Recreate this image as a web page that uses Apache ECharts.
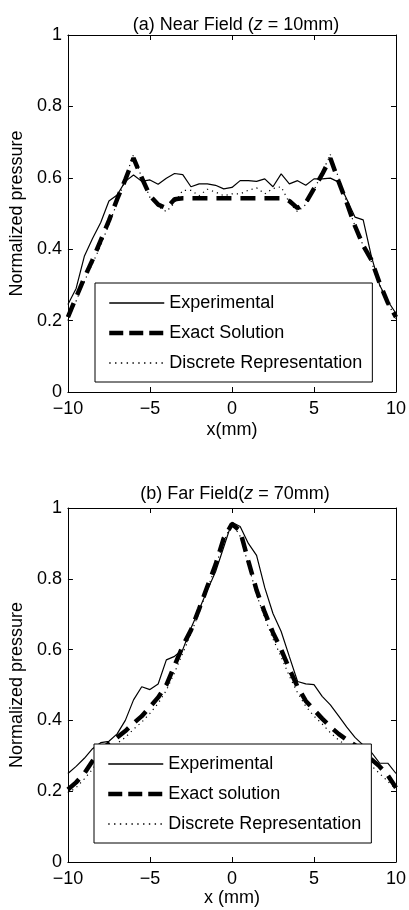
<!DOCTYPE html>
<html>
<head>
<meta charset="utf-8">
<script src="https://cdn.jsdelivr.net/npm/echarts@6/dist/echarts.min.js"></script>
<style>
  html, body { margin: 0; padding: 0; background: #fff; }
  #chart { width: 409px; height: 910px; }
</style>
</head>
<body>
<div id="chart"></div>
<script>
// x positions (mm), shared by every curve
const xMm = [-10, -9.5, -9, -8.5, -8, -7.5, -7, -6.5, -6, -5.5, -5, -4.5, -4, -3.5, -3, -2.5, -2, -1.5, -1, -0.5,
  0, 0.5, 1, 1.5, 2, 2.5, 3, 3.5, 4, 4.5, 5, 5.5, 6, 6.5, 7, 7.5, 8, 8.5, 9, 9.5, 10];

// (a) near field, z = 10mm
const nearExperimental = [0.245, 0.29, 0.38, 0.43, 0.475, 0.535, 0.552, 0.59, 0.608, 0.59, 0.594, 0.582, 0.599, 0.612, 0.609, 0.575, 0.583, 0.583, 0.579, 0.569,
  0.573, 0.592, 0.592, 0.59, 0.597, 0.575, 0.611, 0.583, 0.592, 0.579, 0.597, 0.597, 0.599, 0.588, 0.54, 0.49, 0.482, 0.38, 0.3, 0.255, 0.22];
const nearExact = [0.21, 0.265, 0.32, 0.37, 0.425, 0.48, 0.54, 0.595, 0.655, 0.6, 0.55, 0.525, 0.515, 0.54, 0.543, 0.543, 0.543, 0.543, 0.543, 0.543,
  0.543, 0.543, 0.543, 0.543, 0.543, 0.543, 0.543, 0.535, 0.515, 0.53, 0.57, 0.61, 0.655, 0.59, 0.53, 0.465, 0.41, 0.37, 0.305, 0.25, 0.21];
const nearDiscrete = [0.2, 0.255, 0.31, 0.36, 0.41, 0.47, 0.53, 0.6, 0.665, 0.6, 0.545, 0.52, 0.505, 0.53, 0.565, 0.565, 0.55, 0.568, 0.56, 0.55,
  0.555, 0.555, 0.565, 0.572, 0.555, 0.57, 0.575, 0.53, 0.505, 0.525, 0.565, 0.615, 0.665, 0.6, 0.53, 0.465, 0.41, 0.365, 0.3, 0.25, 0.205];

// (b) far field, z = 70mm
const farExperimental = [0.25, 0.27, 0.293, 0.32, 0.337, 0.341, 0.362, 0.4, 0.458, 0.495, 0.487, 0.503, 0.571, 0.581, 0.6, 0.66, 0.713, 0.768, 0.82, 0.89,
  0.96, 0.948, 0.9, 0.866, 0.775, 0.702, 0.651, 0.58, 0.51, 0.503, 0.501, 0.468, 0.444, 0.413, 0.381, 0.352, 0.33, 0.31, 0.279, 0.279, 0.25];
const farExact = [0.205, 0.225, 0.25, 0.285, 0.315, 0.335, 0.352, 0.37, 0.392, 0.412, 0.438, 0.465, 0.5, 0.555, 0.61, 0.655, 0.715, 0.778, 0.84, 0.915,
  0.955, 0.935, 0.85, 0.768, 0.705, 0.648, 0.6, 0.545, 0.495, 0.455, 0.43, 0.405, 0.382, 0.362, 0.345, 0.33, 0.31, 0.29, 0.27, 0.245, 0.21];
const farDiscrete = [0.195, 0.21, 0.235, 0.262, 0.295, 0.318, 0.335, 0.352, 0.375, 0.395, 0.42, 0.448, 0.485, 0.535, 0.59, 0.645, 0.705, 0.77, 0.835, 0.905,
  0.958, 0.92, 0.84, 0.755, 0.69, 0.63, 0.58, 0.525, 0.478, 0.44, 0.412, 0.39, 0.365, 0.345, 0.328, 0.31, 0.29, 0.272, 0.25, 0.228, 0.205];

const titles = ['(a) Near Field ({i|z} = 10mm)', '(b) Far Field({i|z} = 70mm)'];
const xNames = ['x(mm)', 'x (mm)'];
const yName = 'Normalized pressure';

const FONT = "'Liberation Sans', Arial, Helvetica, sans-serif";
const FS = 18;

function pairs(ys) {
  return xMm.map((x, i) => [x, ys[i]]);
}

var myChart = echarts.init(document.getElementById('chart'));

const tick = { inside: true, length: 5, lineStyle: { color: '#000', width: 1 } };
const line = { show: true, onZero: false, lineStyle: { color: '#000', width: 1 } };
const label = {
  color: '#000', fontSize: FS, fontFamily: FONT,
  formatter: v => String(v).replace('-', '\u2212')
};

function xAxes(g, nameGap) {
  return [
    {
      gridIndex: g, type: 'value', min: -10, max: 10, interval: 5, position: 'bottom',
      axisLine: line, axisTick: tick, splitLine: { show: false },
      axisLabel: Object.assign({ margin: 8 }, label),
      name: xNames[g], nameLocation: 'middle', nameGap: nameGap,
      nameTextStyle: { color: '#000', fontSize: FS, fontFamily: FONT }
    },
    {
      gridIndex: g, type: 'value', min: -10, max: 10, interval: 5, position: 'top',
      axisLine: line, axisTick: tick, splitLine: { show: false }, axisLabel: { show: false }
    }
  ];
}

function yAxes(g) {
  return [
    {
      gridIndex: g, type: 'value', min: 0, max: 1, interval: 0.2, position: 'left',
      axisLine: line, axisTick: tick, splitLine: { show: false },
      axisLabel: Object.assign({ margin: 6 }, label),
      name: yName, nameLocation: 'middle', nameGap: 32, nameRotate: 90,
      nameTextStyle: { color: '#000', fontSize: FS, fontFamily: FONT }
    },
    {
      gridIndex: g, type: 'value', min: 0, max: 1, interval: 0.2, position: 'right',
      axisLine: line, axisTick: tick, splitLine: { show: false }, axisLabel: { show: false }
    }
  ];
}

function curves(g, exactName, exp, exact, disc) {
  return [
    {
      name: 'Experimental', type: 'line', xAxisIndex: g * 2, yAxisIndex: g * 2,
      data: pairs(exp), symbol: 'none',
      lineStyle: { color: '#000', width: 1.2 }
    },
    {
      name: exactName, type: 'line', xAxisIndex: g * 2, yAxisIndex: g * 2,
      data: pairs(exact), symbol: 'none',
      lineStyle: { color: '#000', width: 4.5, type: [15, 9] }
    },
    {
      name: 'Discrete Representation', type: 'line', xAxisIndex: g * 2, yAxisIndex: g * 2,
      data: pairs(disc), symbol: 'none',
      lineStyle: { color: '#000', width: 1.2, type: [1.2, 4] }
    }
  ];
}

function legend(top, left, names) {
  return {
    orient: 'vertical', left: left, top: top,
    data: [
      { name: names[0], lineStyle: { width: 1.6 } },
      { name: names[1], lineStyle: { width: 4.5, type: [14, 6] } },
      { name: names[2], lineStyle: { width: 1.6, type: [1.4, 4.4] } }
    ],
    itemWidth: 55, itemHeight: 18, itemGap: 12, itemStyle: { opacity: 0 },
    padding: [11, 10, 10, 12], borderColor: '#000', borderWidth: 1, backgroundColor: '#fff',
    textStyle: { color: '#000', fontSize: FS, fontFamily: FONT },
    selectedMode: false
  };
}

var option = {
  animation: false,
  backgroundColor: '#fff',
  title: [
    {
      text: titles[0], left: 231, top: 11, textAlign: 'center',
      textStyle: { color: '#000', fontSize: FS, fontWeight: 'normal', fontFamily: FONT,
        rich: { i: { fontStyle: 'italic', fontSize: FS, fontFamily: FONT, color: '#000' } } }
    },
    {
      text: titles[1], left: 230, top: 480, textAlign: 'center',
      textStyle: { color: '#000', fontSize: FS, fontWeight: 'normal', fontFamily: FONT,
        rich: { i: { fontStyle: 'italic', fontSize: FS, fontFamily: FONT, color: '#000' } } }
    }
  ],
  grid: [
    { left: 63, top: 35, width: 337, height: 357 },
    { left: 63, top: 508, width: 334, height: 354 }
  ],
  legend: [
    legend(283, 95, ['Experimental', 'Exact Solution', 'Discrete Representation']),
    legend(744, 94, ['Experimental', 'Exact solution', 'Discrete Representation'])
  ],
  xAxis: xAxes(0, 29).concat(xAxes(1, 26)),
  yAxis: yAxes(0).concat(yAxes(1)),
  series: curves(0, 'Exact Solution', nearExperimental, nearExact, nearDiscrete)
    .concat(curves(1, 'Exact solution', farExperimental, farExact, farDiscrete))
};

option && myChart.setOption(option);
</script>
</body>
</html>
